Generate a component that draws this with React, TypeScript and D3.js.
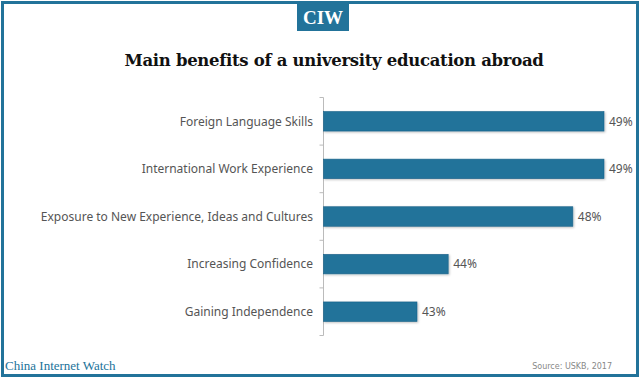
import React from "react";
import * as d3 from "d3";

const categories = [
  "Foreign Language Skills",
  "International Work Experience",
  "Exposure to New Experience, Ideas and Cultures",
  "Increasing Confidence",
  "Gaining Independence",
];
const values = [49, 49, 48, 44, 43];
const valueLabels = ["49%", "49%", "48%", "44%", "43%"];
const title = "Main benefits of a university education abroad";
const source = "Source: USKB, 2017";
const brand = "China Internet Watch";

const W = 640;
const H = 379;
const BLUE = "#22739a";

export default function App() {
  const x = d3.scaleLinear().domain([40, 49]).range([323.5, 604]);
  const y = d3
    .scaleBand<string>()
    .domain(categories)
    .range([97.5, 335.5])
    .paddingInner(0.59)
    .paddingOuter(0.295);
  const step = y.step();
  const bounds = d3.range(categories.length + 1).map((i) => 97.5 + i * step);

  return (
    <svg
      width={W}
      height={H}
      style={{ display: "block", background: "#fff", position: "absolute", left: 0, top: 0 }}
    >
      <defs>
        <filter id="sh" x="-5%" y="-20%" width="110%" height="150%">
          <feDropShadow dx="1" dy="1" stdDeviation="0.8" floodColor="#000" floodOpacity="0.25" />
        </filter>
      </defs>
      <rect x={2.5} y={2.5} width={635} height={373} fill="#fff" stroke={BLUE} strokeWidth={3} />
      <rect x={297} y={1} width={52} height={30} fill={BLUE} />
      <text
        x={323}
        y={24}
        textAnchor="middle"
        fill="#fff"
        fontFamily="'Liberation Serif', 'DejaVu Serif', serif"
        fontWeight="bold"
        fontSize={19}
      >
        CIW
      </text>
      <text
        x={334}
        y={66}
        textAnchor="middle"
        fill="#111"
        fontFamily="'DejaVu Serif', serif"
        fontWeight="bold"
        fontSize={16.5}
        letterSpacing={-0.3}
      >
        {title}
      </text>

      <line x1={323.5} x2={323.5} y1={bounds[0]} y2={bounds[bounds.length - 1]} stroke="#bbb" strokeWidth={1} />
      {bounds.map((b, i) => (
        <line key={i} x1={319.5} x2={323.5} y1={b} y2={b} stroke="#bbb" strokeWidth={1} />
      ))}

      {categories.map((c, i) => {
        const yy = y(c) as number;
        const bw = y.bandwidth();
        return (
          <g key={c}>
            <rect
              x={x(40)}
              y={yy}
              width={x(values[i]) - x(40)}
              height={bw}
              fill={BLUE}
              stroke="#1b6189"
              strokeWidth={0.6}
              filter="url(#sh)"
            />
            <text
              x={313}
              y={yy + bw / 2}
              dy="0.35em"
              textAnchor="end"
              fill="#555"
              fontFamily="'Noto Sans', sans-serif"
              fontSize={12}
            >
              {c}
            </text>
            <text
              x={x(values[i]) + 5}
              y={yy + bw / 2}
              dy="0.35em"
              fill="#555"
              fontFamily="'Noto Sans', sans-serif"
              fontSize={12}
            >
              {valueLabels[i]}
            </text>
          </g>
        );
      })}

      <text x={5} y={370} fill={BLUE} fontFamily="'Liberation Serif', serif" fontSize={13}>
        {brand}
      </text>
      <text
        x={612}
        y={369}
        textAnchor="end"
        fill="#888"
        fontFamily="'DejaVu Sans', sans-serif"
        fontSize={8}
      >
        {source}
      </text>
    </svg>
  );
}
